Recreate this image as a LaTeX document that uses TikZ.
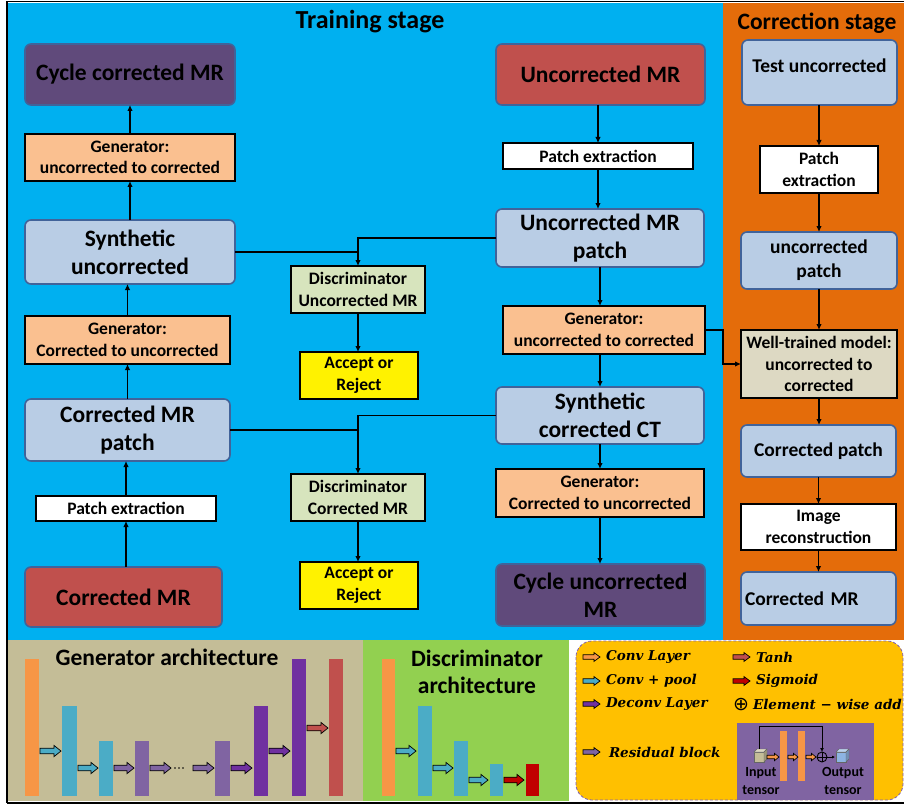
\documentclass[tikz,border=0pt]{standalone}
\usepackage{fontspec}
\setmainfont{Carlito}
\newfontfamily\legfont{DejaVu Serif}
\newfontfamily\symfont{DejaVu Sans}
\usetikzlibrary{arrows.meta}
\definecolor{bgblue}{HTML}{00B0F0}
\definecolor{bgorange}{HTML}{E46C0A}
\definecolor{boxred}{HTML}{C0504D}
\definecolor{boxpurple}{HTML}{604A7B}
\definecolor{boxblue}{HTML}{B9CDE5}
\definecolor{boxedge}{HTML}{41639A}
\definecolor{genfill}{HTML}{FAC090}
\definecolor{discfill}{HTML}{D7E4BD}
\definecolor{wtfill}{HTML}{DDD9C3}
\definecolor{tanpanel}{HTML}{C4BD97}
\definecolor{greenpanel}{HTML}{92D050}
\definecolor{legfill}{HTML}{FFC000}
\definecolor{legedge}{HTML}{7F5FB0}
\definecolor{aorange}{HTML}{F79646}
\definecolor{ablue}{HTML}{4BACC6}
\definecolor{alilac}{HTML}{8064A2}
\definecolor{adeep}{HTML}{7030A0}
\definecolor{ared}{HTML}{C0504D}
\definecolor{adark}{HTML}{C00000}
\definecolor{cubein}{HTML}{C4BD97}
\definecolor{cubeout}{HTML}{8DB4E2}
% x, y, length, colour, half shaft, head length
\newcommand{\blockarr}[6]{%
  \filldraw[fill=#4,draw=black,line width=0.7pt,line join=miter]
    (#1,#2-#5) -- (#1+#3-#6,#2-#5) -- (#1+#3-#6,#2-2*#5) -- (#1+#3,#2)
    -- (#1+#3-#6,#2+2*#5) -- (#1+#3-#6,#2+#5) -- (#1,#2+#5) -- cycle;}
\newcommand{\tcube}[4]{% x, y (top-left of front), size, colour
  \filldraw[fill=#4,draw=black!60,line width=0.4pt] (#1,#2) rectangle (#1+#3,#2+#3);
  \filldraw[fill=#4!60!white,draw=black!60,line width=0.4pt] (#1,#2) -- (#1+3,#2-3) -- (#1+#3+3,#2-3) -- (#1+#3,#2) -- cycle;
  \filldraw[fill=#4!80!black,draw=black!60,line width=0.4pt] (#1+#3,#2) -- (#1+#3+3,#2-3) -- (#1+#3+3,#2+#3-3) -- (#1+#3,#2+#3) -- cycle;}
\begin{document}
\begin{tikzpicture}[x=1pt,y=-1pt,
  every node/.style={inner sep=0pt,outer sep=0pt,align=center},
  bigf/.style={font=\fontsize{23.5}{28}\selectfont\bfseries},
  midf/.style={font=\fontsize{19.5}{24}\selectfont\bfseries},
  smallf/.style={font=\fontsize{17.5}{21.5}\selectfont\bfseries},
  titlef/.style={font=\fontsize{26}{30}\selectfont\bfseries},
  legf/.style={font=\fontsize{13.5}{16}\selectfont\legfont\bfseries\itshape},
  rbox/.style={draw=boxedge,line width=1.6pt,rounded corners=6pt},
  sbox/.style={draw=black,line width=2pt},
  arr/.style={-{Latex[length=6pt,width=5.5pt]},line width=1.6pt},
  ln/.style={line width=1.6pt}]
\useasboundingbox (0,0) rectangle (904,805);
\fill[white] (0,0) rectangle (904,805);
% panels
\fill[bgblue] (8,3) rectangle (723,640);
\fill[bgorange] (723,3) rectangle (904,640);
\fill[tanpanel] (8,640) rectangle (363,801);
\fill[greenpanel] (363,640) rectangle (569,801);
\filldraw[fill=legfill,draw=legedge,line width=0.8pt,dash pattern=on 3pt off 2pt,rounded corners=16pt] (576,641) rectangle (903,800);
\draw[black,line width=1.2pt] (7,1.5) -- (904,1.5);
\draw[black,line width=1.2pt] (7,1.5) -- (7,803);
\draw[black,line width=1.2pt] (7,803) -- (904,803);
% titles
\node[titlef] (ttrain) at (370,22) {Training stage};
\node[font=\fontsize{23.5}{28}\selectfont\bfseries] (tcorr) at (817,23) {Correction stage};
% training left column
\node[rbox,fill=boxpurple,bigf,minimum width=210pt,minimum height=61pt] (ccmr) at (130,74.5) {Cycle corrected MR};
\node[sbox,fill=genfill,smallf,minimum width=210pt,minimum height=47pt] (g1) at (130,157.5) {Generator:\\uncorrected to corrected};
\node[rbox,fill=boxblue,bigf,minimum width=210pt,minimum height=64pt] (su) at (130,252) {Synthetic\\uncorrected};
\node[sbox,fill=genfill,smallf,minimum width=205pt,minimum height=48pt] (g2) at (127.5,340) {Generator:\\Corrected to uncorrected};
\node[rbox,fill=boxblue,bigf,minimum width=205pt,minimum height=62pt] (cmp) at (127.5,430) {Corrected MR\\patch};
\node[sbox,fill=white,smallf,minimum width=180pt,minimum height=25pt] (pe1) at (126,508.5) {Patch extraction};
\node[rbox,fill=boxred,bigf,minimum width=197pt,minimum height=60pt] (cmr) at (123.5,597) {Corrected MR};
% discriminators
\node[sbox,fill=discfill,smallf,minimum width=134pt,minimum height=47pt] (du) at (358,289.5) {Discriminator\\Uncorrected MR};
\node[sbox,fill=yellow,smallf,minimum width=118pt,minimum height=47pt] (ar1) at (359,375.5) {Accept or\\Reject};
\node[sbox,fill=discfill,smallf,minimum width=134pt,minimum height=47pt] (dc) at (358,497.5) {Discriminator\\Corrected MR};
\node[sbox,fill=yellow,smallf,minimum width=118pt,minimum height=47pt] (ar2) at (359,585.5) {Accept or\\Reject};
% training right column
\node[rbox,fill=boxred,bigf,minimum width=209pt,minimum height=61pt] (umr) at (600.5,74.5) {Uncorrected MR};
\node[sbox,fill=white,smallf,minimum width=190pt,minimum height=26pt] (pe2) at (598,156) {Patch extraction};
\node[rbox,fill=boxblue,bigf,minimum width=208pt,minimum height=58pt] (ump) at (600,238) {Uncorrected MR\\patch};
\node[sbox,fill=genfill,smallf,minimum width=202pt,minimum height=48pt] (g3) at (604,330) {Generator:\\uncorrected to corrected};
\node[rbox,fill=boxblue,bigf,minimum width=208pt,minimum height=57pt] (sct) at (600,415.5) {Synthetic\\corrected CT};
\node[sbox,fill=genfill,smallf,minimum width=208pt,minimum height=48pt] (g4) at (600,493) {Generator:\\Corrected to uncorrected};
\node[rbox,fill=boxpurple,bigf,minimum width=209pt,minimum height=62pt] (cumr) at (600.5,595) {Cycle uncorrected\\MR};
% correction stage
\node[rbox,fill=boxblue,midf,minimum width=155pt,minimum height=65pt] (tu) at (819.5,72.5) {\raisebox{4pt}[14pt][5pt]{Test uncorrected}};
\node[sbox,fill=white,smallf,minimum width=118pt,minimum height=47pt] (pe3) at (819,169.5) {Patch\\extraction};
\node[rbox,fill=boxblue,midf,minimum width=156pt,minimum height=57pt] (up) at (819,260.5) {uncorrected\\patch};
\node[sbox,fill=wtfill,smallf,minimum width=156pt,minimum height=68pt] (wt) at (819,364) {Well-trained model:\\uncorrected to\\corrected};
\node[rbox,fill=boxblue,midf,minimum width=155pt,minimum height=52pt] (cp) at (818.5,451) {Corrected patch};
\node[sbox,fill=white,smallf,minimum width=155pt,minimum height=46pt] (ir) at (818.5,527) {Image\\reconstruction};
\node[rbox,fill=boxblue,midf,minimum width=155pt,minimum height=53pt,text width=147pt,align=left] (cmr2) at (818.5,598.5) {Corrected MR};
% connectors left column
\draw[arr] (g1.north) -- (g1.north |- ccmr.south);
\draw[arr] (su.north) -- (su.north |- g1.south);
\draw[arr] (g2.north) -- (g2.north |- su.south);
\draw[arr] (cmp.north) -- (cmp.north |- g2.south);
\draw[arr] (pe1.north) -- (pe1.north |- cmp.south);
\draw[arr] (pe1.south |- cmr.north) -- (pe1.south);
% discriminator connectors
\draw[ln] (su.east) -- (su.east -| du.north);
\draw[arr] (ump.west) -| (du.north);
\draw[arr] (du.south) -- (du.south |- ar1.north);
\draw[ln] (cmp.east) -- (cmp.east -| dc.north);
\draw[arr] (sct.west) -| (dc.north);
\draw[arr] (dc.south) -- (dc.south |- ar2.north);
% right column
\draw[arr] (pe2.north |- umr.south) -- (pe2.north);
\draw[arr] (pe2.south) -- (pe2.south |- ump.north);
\draw[arr] (ump.south) -- (ump.south |- g3.north);
\draw[arr] (ump.south |- g3.south) -- (ump.south |- sct.north);
\draw[arr] (sct.south) -- (sct.south |- g4.north);
\draw[arr] (sct.south |- g4.south) -- (sct.south |- cumr.north);
\draw[arr] (g3.east) -- ++(18,0) |- (wt.west);
% correction chain
\draw[arr] (pe3.north |- tu.south) -- (pe3.north);
\draw[arr] (pe3.south) -- (pe3.south |- up.north);
\draw[arr] (up.south) -- (up.south |- wt.north);
\draw[arr] (wt.south) -- (wt.south |- cp.north);
\draw[arr] (cp.south) -- (cp.south |- ir.north);
\draw[arr] (ir.south) -- (ir.south |- cmr2.north);
% generator architecture
\node[font=\fontsize{23.5}{28}\selectfont\bfseries] (tgen) at (167,657) {Generator architecture};
\fill[aorange] (25,659) rectangle (39,796);
\fill[ablue] (62,706) rectangle (77,796);
\fill[ablue] (99,741) rectangle (113,796);
\fill[alilac] (135,741) rectangle (149,796);
\fill[alilac] (215,741) rectangle (230,796);
\fill[adeep] (254,706) rectangle (268,796);
\fill[adeep] (292,659) rectangle (306,796);
\fill[ared] (329,659) rectangle (343,796);
\blockarr{40}{751}{21}{ablue}{2.8}{7}
\blockarr{78}{768}{20}{ablue}{2.8}{7}
\blockarr{114}{768}{20}{alilac}{2.8}{7}
\blockarr{150}{768}{21}{alilac}{2.8}{7}
\fill[black] (175,768) circle (0.9) (179,768) circle (0.9) (183,768) circle (0.9);
\blockarr{193}{768}{21}{alilac}{2.8}{7}
\blockarr{231}{768}{21}{adeep}{2.8}{7}
\blockarr{269}{751}{21}{adeep}{2.8}{7}
\blockarr{307}{728}{21}{ared}{2.8}{7}
% discriminator architecture
\node[font=\fontsize{23.5}{27}\selectfont\bfseries] (tdisc) at (477,672) {Discriminator\\architecture};
\fill[aorange] (382,659) rectangle (395,796);
\fill[ablue] (418,706) rectangle (432,796);
\fill[ablue] (454,741) rectangle (468,796);
\fill[ablue] (490,764) rectangle (503,796);
\fill[adark] (526,764) rectangle (539,796);
\blockarr{396}{751}{20}{ablue}{2.8}{7}
\blockarr{433}{768}{20}{ablue}{2.8}{7}
\blockarr{469}{780}{19}{ablue}{2.8}{7}
\blockarr{504}{780}{20}{adark}{2.8}{7}
% legend
\blockarr{583}{657}{17}{aorange}{2.2}{6}
\blockarr{583}{681}{17}{ablue}{2.2}{6}
\blockarr{583}{704}{17}{adeep}{2.2}{6}
\blockarr{583}{752}{17}{alilac}{2.2}{6}
\blockarr{733}{657}{17}{ared}{2.2}{6}
\blockarr{733}{681}{17}{adark}{2.2}{6}
\node[legf,anchor=west] (l1) at (606,657) {Conv Layer};
\node[legf,anchor=west] (l2) at (606,681) {Conv + pool};
\node[legf,anchor=west] (l3) at (606,704) {Deconv Layer};
\node[legf,anchor=west] (l4) at (609,752) {Residual block};
\node[legf,anchor=west] (l5) at (756,657) {Tanh};
\node[legf,anchor=west] (l6) at (756,681) {Sigmoid};
\node[font=\fontsize{19}{20}\selectfont\symfont] (l7s) at (741,705) {⊕};
\node[legf,anchor=west] (l7) at (753,704) {Element − wise add};
% residual block picture
\fill[alilac] (737,723) rectangle (874,800);
\fill[aorange] (780,731) rectangle (787,781);
\fill[aorange] (798,731) rectangle (805,781);
\tcube{754}{752}{10}{cubein}
\tcube{836}{752}{10}{cubeout}
\blockarr{767}{757}{12}{aorange}{1.8}{4.5}
\blockarr{788}{757}{10}{aorange}{1.8}{4.5}
\blockarr{806}{757}{10}{aorange}{1.8}{4.5}
\node[circle,draw=black,line width=0.9pt,minimum size=10pt] (plus) at (822,757) {};
\draw[line width=0.9pt] (plus.north) -- (plus.south) (plus.west) -- (plus.east);
\draw[-{Latex[length=3pt,width=3pt]},line width=0.9pt] (plus.east) -- (835,757);
\draw[-{Latex[length=4pt,width=4pt]},line width=1pt] (759,749) -- (759,726) -- (822,726) -- (plus.north);
\node[font=\fontsize{14}{18}\selectfont\bfseries] (tin) at (761,781) {Input\\tensor};
\node[font=\fontsize{14}{18}\selectfont\bfseries] (tout) at (843,781) {Output\\tensor};
\end{tikzpicture}
\end{document}
